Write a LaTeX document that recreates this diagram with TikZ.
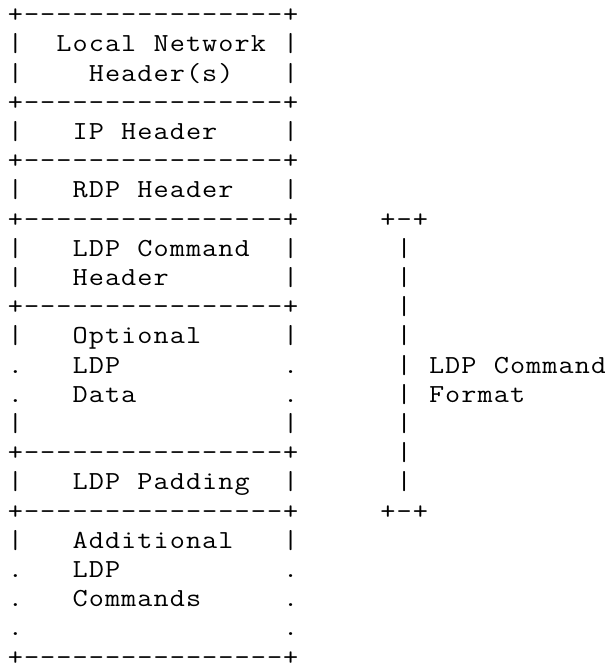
\documentclass[tikz,border=0pt]{standalone}
\usepackage{fontspec}
\usepackage{graphicx}
\tikzset{txt/.style={anchor=base west, inner sep=0pt, font=\ttfamily\fontsize{13pt}{14.6pt}\selectfont}}
% one fixed cell per character, ~ for a blank
\def\cells#1{\cellnext#1\relax}
\def\cellnext#1{\ifx#1\relax\else\makebox[8.1pt]{\scalebox{1.13}[1]{#1}}\expandafter\cellnext\fi}
\def\asc(#1,#2)#3#4{\node[txt] (#3) at ({3.45pt+8.1pt*(#1)},{-11.3pt-14.6pt*(#2)}) {\cells{#4}};}

\begin{document}
\begin{tikzpicture}
			%%%%% START %%%%%
			\useasboundingbox (0,0) rectangle (302.5pt,-333pt);
			
			% box rules
			\foreach \r in {0,3,5,7,10,15,17,22}{
				\asc(0,\r){rule\r}{+----------------+}
			}
			
			% box sides
			\foreach \r/\s in {1/|,2/|,4/|,6/|,8/|,9/|,11/|,12/.,13/.,14/|,16/|,18/|,19/.,20/.,21/.}{
				\asc(0,\r){left\r}{\s}
				\asc(17,\r){right\r}{\s}
			}
			
			\asc(3,1){local}{Local~Network}
			\asc(5,2){hdrs}{Header(s)}
			\asc(4,4){ip}{IP~Header}
			\asc(4,6){rdp}{RDP~Header}
			\asc(4,8){cmd}{LDP~Command}
			\asc(4,9){cmdhdr}{Header}
			\asc(4,11){opt}{Optional}
			\asc(4,12){optldp}{LDP}
			\asc(4,13){data}{Data}
			\asc(4,16){pad}{LDP~Padding}
			\asc(4,18){addl}{Additional}
			\asc(4,19){addldp}{LDP}
			\asc(4,20){cmds}{Commands}
			
			% bracket
			\asc(23,7){brtop}{+-+}
			\foreach \r in {8,...,16}{
				\asc(24,\r){bar\r}{|}
			}
			\asc(23,17){brbot}{+-+}
			\asc(26,12){fmt}{LDP~Command}
			\asc(26,13){fmtb}{Format}
			
			%%%%% END %%%%%
\end{tikzpicture}
\end{document}
